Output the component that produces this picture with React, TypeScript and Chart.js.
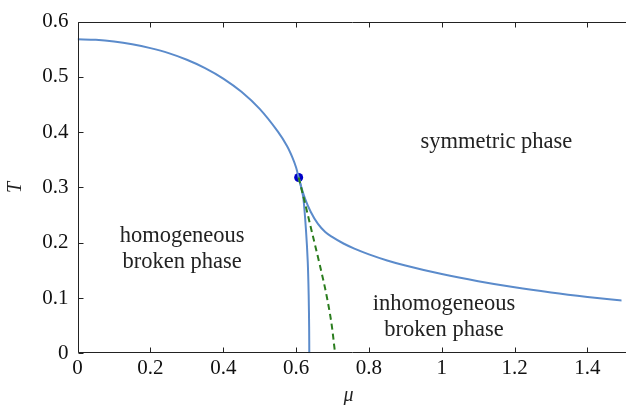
import React, { useEffect, useRef } from "react";
import { Chart, registerables } from "chart.js";

Chart.register(...registerables);

// Phase boundary of the homogeneous broken phase (through the critical point, down to T = 0)
const boundaryMu = [0, 0.05, 0.1, 0.15, 0.2, 0.25, 0.3, 0.35, 0.4, 0.45, 0.5, 0.55, 0.575, 0.59, 0.6, 0.607, 0.614, 0.62, 0.627, 0.632, 0.6345, 0.6358, 0.6362];
const boundaryT = [0.568, 0.567, 0.564, 0.559, 0.552, 0.543, 0.531, 0.516, 0.497, 0.473, 0.442, 0.401, 0.375, 0.354, 0.336, 0.318, 0.3, 0.28, 0.224, 0.165, 0.106, 0.047, 0];

// Boundary between inhomogeneous broken phase and symmetric phase
const upperMu = [0.607, 0.615, 0.625, 0.64, 0.66, 0.68, 0.7, 0.73, 0.76, 0.8, 0.85, 0.9, 1.0, 1.1, 1.2, 1.3, 1.4, 1.5];
const upperT = [0.318, 0.299, 0.279, 0.256, 0.234, 0.2195, 0.21, 0.1986, 0.1894, 0.179, 0.168, 0.1588, 0.1433, 0.1303, 0.1193, 0.11, 0.102, 0.095];

// Dashed green line
const dashedMu = [0.607, 0.625, 0.645, 0.665, 0.685, 0.698, 0.707];
const dashedT = [0.318, 0.27, 0.215, 0.16, 0.1, 0.05, 0];

// Critical point
const criticalMu = [0.607];
const criticalT = [0.318];

// Axis ticks
const xTicks = [0, 0.2, 0.4, 0.6, 0.8, 1, 1.2, 1.4];
const yTicks = [0, 0.1, 0.2, 0.3, 0.4, 0.5, 0.6];

// Region labels
const labelTexts = [["symmetric phase"], ["homogeneous", "broken phase"], ["inhomogeneous", "broken phase"]];
const labelMu = [1.15, 0.287, 1.006];
const labelT = [0.382, 0.188, 0.066];

const toPts = (xs: number[], ys: number[]) => xs.map((x, i) => ({ x, y: ys[i] }));

const BLUE = "#5b8bcb";
const GREEN = "#2b7d1e";
const SERIF = "Liberation Serif";

Chart.defaults.font.family = SERIF;

const framePlugin = {
  id: "frame",
  afterDatasetsDraw(chart: any) {
    const { ctx, chartArea } = chart;
    const { left, right, top, bottom } = chartArea;
    const xs = chart.scales.x;
    const ys = chart.scales.y;
    ctx.save();
    ctx.strokeStyle = "#222";
    ctx.lineWidth = 1;
    const L = Math.round(left) + 0.5;
    const B = Math.round(bottom) - 0.5;
    const T = Math.round(top) + 0.5;
    ctx.beginPath();
    ctx.moveTo(L, T);
    ctx.lineTo(right + 5, T);
    ctx.moveTo(L, T);
    ctx.lineTo(L, B);
    ctx.lineTo(right + 5, B);
    const tl = 5;
    xTicks.forEach((v) => {
      const px = Math.round(xs.getPixelForValue(v)) + 0.5;
      ctx.moveTo(px, B);
      ctx.lineTo(px, B - tl);
      ctx.moveTo(px, T);
      ctx.lineTo(px, T + tl);
    });
    yTicks.forEach((v) => {
      const py = Math.round(ys.getPixelForValue(v)) + 0.5;
      ctx.moveTo(L, py);
      ctx.lineTo(L + tl, py);
    });
    ctx.stroke();

    // region labels
    ctx.fillStyle = "#222";
    ctx.font = `22.5px ${SERIF}`;
    ctx.textAlign = "center";
    ctx.textBaseline = "middle";
    const lh = 26;
    labelTexts.forEach((lines, i) => {
      const cx = xs.getPixelForValue(labelMu[i]);
      const cy = ys.getPixelForValue(labelT[i]);
      const y0 = cy - ((lines.length - 1) * lh) / 2;
      lines.forEach((s, j) => ctx.fillText(s, cx, y0 + j * lh));
    });

    // axis titles
    ctx.font = `italic 20px ${SERIF}`;
    ctx.textBaseline = "alphabetic";
    ctx.fillText("\u03bc", (left + right) / 2 - 1, 401);
    ctx.save();
    ctx.translate(21, (top + bottom) / 2);
    ctx.rotate(-Math.PI / 2);
    ctx.fillText("T", 0, 0);
    ctx.restore();
    ctx.restore();
  },
};

export default function App() {
  const ref = useRef<HTMLCanvasElement | null>(null);
  useEffect(() => {
    document.body.style.margin = "0";
    const canvas = ref.current!;
    const chart = new Chart(canvas, {
      type: "scatter",
      data: {
        datasets: [
          {
            data: toPts(dashedMu, dashedT),
            showLine: true,
            borderColor: GREEN,
            borderWidth: 2,
            borderDash: [6, 4],
            pointRadius: 0,
            cubicInterpolationMode: "monotone",
          },
          {
            data: toPts(boundaryMu, boundaryT),
            showLine: true,
            borderColor: BLUE,
            borderWidth: 2,
            pointRadius: 0,
            tension: 0.3,
          },
          {
            data: toPts(upperMu, upperT),
            showLine: true,
            borderColor: BLUE,
            borderWidth: 2,
            pointRadius: 0,
            cubicInterpolationMode: "monotone",
          },
          {
            data: toPts(criticalMu, criticalT),
            showLine: false,
            backgroundColor: "#0000c8",
            borderColor: "#0000c8",
            pointRadius: 4.5,
            borderWidth: 0,
          },
        ],
      },
      options: {
        animation: false,
        responsive: false,
        devicePixelRatio: 1,
        layout: { padding: { top: 15, left: 0, right: 0, bottom: 0 } },
        plugins: { legend: { display: false }, tooltip: { enabled: false } },
        scales: {
          x: {
            type: "linear",
            min: 0,
            max: 1.4935,
            grid: { display: false, drawTicks: false },
            border: { display: false },
            afterBuildTicks: (s: any) => {
              s.ticks = xTicks.map((v) => ({ value: v }));
            },
            afterFit: (s: any) => {
              s.height = 51.7;
            },
            ticks: {
              padding: 3,
              color: "#111",
              font: { family: SERIF, size: 21 },
              callback: (v: any) => String(Number(Number(v).toFixed(1))),
            },
          },
          y: {
            type: "linear",
            min: 0,
            max: 0.6,
            grid: { display: false, drawTicks: false },
            border: { display: false },
            afterBuildTicks: (s: any) => {
              s.ticks = yTicks.map((v) => ({ value: v }));
            },
            afterFit: (s: any) => {
              s.width = 77.6;
            },
            ticks: {
              padding: 9,
              color: "#111",
              font: { family: SERIF, size: 21 },
              callback: (v: any) => String(Number(Number(v).toFixed(1))),
            },
          },
        },
      },
      plugins: [framePlugin],
    });
    return () => chart.destroy();
  }, []);
  return (
    <div style={{ width: 626, height: 405 }}>
      <canvas ref={ref} width={626} height={405} style={{ display: "block" }} />
    </div>
  );
}
